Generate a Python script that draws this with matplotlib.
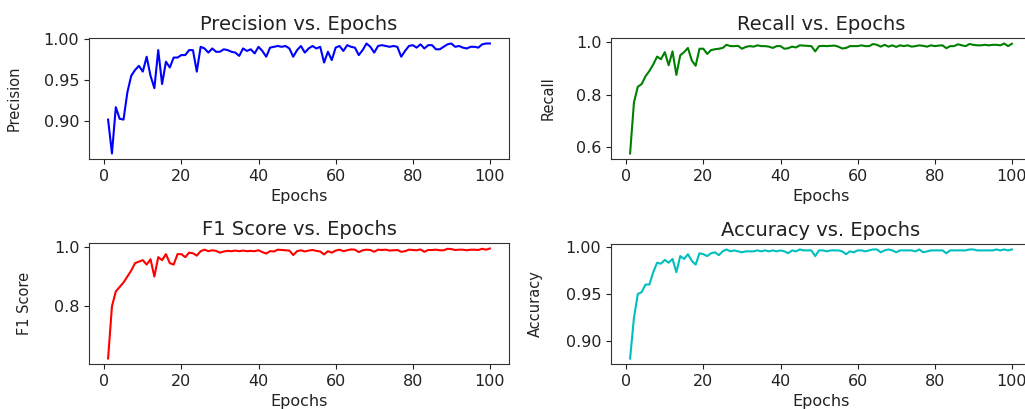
import matplotlib
matplotlib.use("Agg")
import matplotlib.pyplot as plt
import numpy as np

epochs = list(range(1, 101))

precision = [0.902, 0.861, 0.917, 0.903, 0.902, 0.935, 0.955, 0.962, 0.967, 0.960,
             0.978, 0.955, 0.940, 0.986, 0.945, 0.972, 0.965, 0.977, 0.977, 0.980,
             0.980, 0.986, 0.986, 0.960, 0.990, 0.988, 0.983, 0.988, 0.984, 0.984,
             0.987, 0.986, 0.984, 0.983, 0.979, 0.988, 0.985, 0.987, 0.982, 0.990,
             0.985, 0.978, 0.989, 0.990, 0.991, 0.990, 0.991, 0.988, 0.978, 0.986,
             0.991, 0.983, 0.988, 0.991, 0.988, 0.990, 0.971, 0.984, 0.974, 0.989,
             0.991, 0.985, 0.992, 0.990, 0.989, 0.980, 0.986, 0.994, 0.990, 0.983,
             0.991, 0.992, 0.991, 0.990, 0.991, 0.990, 0.978, 0.985, 0.991, 0.992,
             0.989, 0.993, 0.988, 0.992, 0.992, 0.987, 0.987, 0.990, 0.993, 0.994,
             0.990, 0.991, 0.989, 0.988, 0.990, 0.990, 0.989, 0.993, 0.994, 0.994]

recall = [0.575, 0.770, 0.830, 0.840, 0.870, 0.890, 0.915, 0.945, 0.935, 0.962,
          0.912, 0.965, 0.875, 0.950, 0.962, 0.978, 0.930, 0.910, 0.975, 0.975,
          0.955, 0.970, 0.973, 0.975, 0.978, 0.990, 0.985, 0.985, 0.986, 0.975,
          0.982, 0.985, 0.983, 0.988, 0.985, 0.985, 0.983, 0.978, 0.985, 0.985,
          0.975, 0.977, 0.983, 0.980, 0.988, 0.987, 0.986, 0.985, 0.965, 0.985,
          0.986, 0.985, 0.986, 0.987, 0.983, 0.976, 0.978, 0.985, 0.985, 0.985,
          0.988, 0.985, 0.985, 0.993, 0.990, 0.983, 0.990, 0.983, 0.988, 0.982,
          0.988, 0.985, 0.988, 0.983, 0.985, 0.988, 0.986, 0.983, 0.988, 0.985,
          0.987, 0.988, 0.977, 0.985, 0.985, 0.992, 0.988, 0.985, 0.993, 0.990,
          0.988, 0.988, 0.990, 0.988, 0.990, 0.990, 0.988, 0.995, 0.985, 0.994]

f1 = [0.625, 0.800, 0.850, 0.865, 0.880, 0.900, 0.920, 0.945, 0.950, 0.955,
      0.940, 0.958, 0.900, 0.965, 0.955, 0.975, 0.945, 0.940, 0.975, 0.975,
      0.965, 0.980, 0.978, 0.970, 0.985, 0.990, 0.985, 0.988, 0.986, 0.980,
      0.984, 0.986, 0.985, 0.987, 0.985, 0.987, 0.985, 0.986, 0.985, 0.988,
      0.982, 0.977, 0.985, 0.984, 0.990, 0.989, 0.988, 0.987, 0.972, 0.985,
      0.988, 0.984, 0.987, 0.989, 0.986, 0.984, 0.974, 0.985, 0.980, 0.987,
      0.990, 0.985, 0.988, 0.991, 0.990, 0.982, 0.988, 0.990, 0.989, 0.983,
      0.990, 0.989, 0.990, 0.987, 0.988, 0.989, 0.983, 0.985, 0.990, 0.989,
      0.988, 0.991, 0.983, 0.989, 0.989, 0.990, 0.988, 0.988, 0.993, 0.992,
      0.989, 0.990, 0.990, 0.988, 0.990, 0.990, 0.989, 0.993, 0.990, 0.994]

accuracy = [0.882, 0.925, 0.950, 0.952, 0.960, 0.960, 0.973, 0.983, 0.982, 0.986,
            0.983, 0.987, 0.973, 0.990, 0.987, 0.992, 0.985, 0.981, 0.993, 0.992,
            0.990, 0.993, 0.994, 0.991, 0.995, 0.997, 0.995, 0.996, 0.995, 0.994,
            0.995, 0.995, 0.995, 0.996, 0.995, 0.996, 0.995, 0.996, 0.995, 0.996,
            0.995, 0.993, 0.996, 0.995, 0.997, 0.996, 0.996, 0.996, 0.990, 0.996,
            0.996, 0.995, 0.996, 0.996, 0.996, 0.995, 0.992, 0.995, 0.994, 0.996,
            0.996, 0.995, 0.996, 0.997, 0.997, 0.994, 0.996, 0.997, 0.996, 0.994,
            0.996, 0.996, 0.996, 0.996, 0.995, 0.997, 0.994, 0.995, 0.996, 0.996,
            0.996, 0.996, 0.993, 0.996, 0.996, 0.996, 0.996, 0.996, 0.997, 0.997,
            0.996, 0.996, 0.996, 0.996, 0.996, 0.997, 0.996, 0.997, 0.996, 0.997]

titles = ["Precision vs. Epochs", "Recall vs. Epochs", "F1 Score vs. Epochs", "Accuracy vs. Epochs"]
ylabels = ["Precision", "Recall", "F1 Score", "Accuracy"]
colors = ["b", "g", "r", "c"]
series = [precision, recall, f1, accuracy]
yticks = [[0.90, 0.95, 1.00], [0.6, 0.8, 1.0], [0.8, 1.0], [0.90, 0.95, 1.00]]
yfmt = ["%.2f", "%.1f", "%.1f", "%.2f"]

W, H = 1025, 409
# axes boxes in pixels: left, top, width, height
boxes = [(89, 38, 420, 121), (611, 38, 420, 121), (89, 243, 420, 121), (611, 244, 420, 120)]
ylabel_x = [-0.160, -0.133, -0.136, -0.162]

txt = "#222222"
plt.rcParams["text.color"] = txt
plt.rcParams["axes.labelcolor"] = txt
plt.rcParams["xtick.color"] = txt
plt.rcParams["ytick.color"] = txt
plt.rcParams["axes.edgecolor"] = "#333333"

fig = plt.figure(figsize=(W / 100, H / 100), dpi=100)
for i in range(4):
    l, t, w, h = boxes[i]
    ax = fig.add_axes([l / W, (H - t - h) / H, w / W, h / H])
    ax.plot(epochs, series[i], color=colors[i], linewidth=1.5)
    ax.set_title(titles[i], fontsize=14)
    ax.set_xlabel("Epochs", fontsize=11.5)
    ax.set_ylabel(ylabels[i], fontsize=10.5)
    ax.yaxis.set_label_coords(ylabel_x[i], 0.5)
    ax.set_xticks([0, 20, 40, 60, 80, 100])
    ax.set_yticks(yticks[i])
    ax.set_yticklabels([yfmt[i] % v for v in yticks[i]])
    ax.tick_params(labelsize=11.5)

fig.savefig("out.png", dpi=100)
